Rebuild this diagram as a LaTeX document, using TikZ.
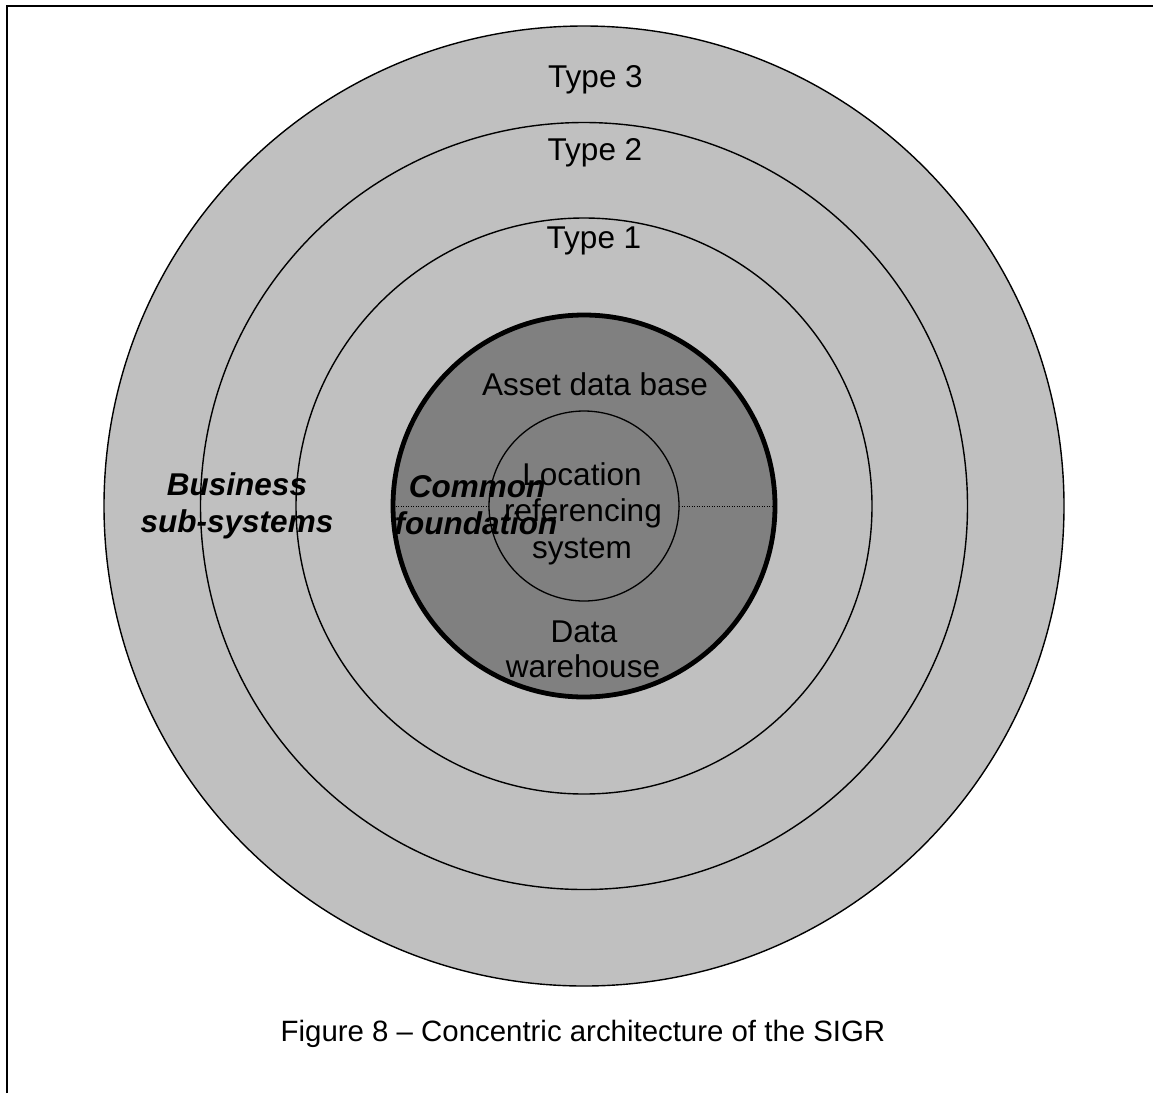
\documentclass[tikz,border=0pt]{standalone}
\usepackage{fontspec}
\setmainfont{Liberation Sans}
\definecolor{lightring}{HTML}{C0C0C0}
\definecolor{darkcore}{HTML}{808080}
\begin{document}
\begin{tikzpicture}[x=1pt,y=-1pt,
  ring/.style={circle,inner sep=0pt,outer sep=0pt,draw=black,line width=1.4pt,fill=lightring},
  core/.style={circle,inner sep=0pt,outer sep=0pt,draw=black,line width=4.8pt,fill=darkcore},
  hub/.style={circle,inner sep=0pt,outer sep=0pt,draw=black,line width=1.3pt},
  lbl/.style={anchor=base,inner sep=0pt,font=\fontsize{31.5}{36}\selectfont},
  blbl/.style={anchor=base,inner sep=0pt,font=\fontsize{31.5}{36}\selectfont\bfseries\itshape},
  caplbl/.style={anchor=base,inner sep=0pt,font=\fontsize{29.4}{34}\selectfont},
  divider/.style={line width=1pt,dash pattern=on 1pt off 1.5pt}
]
\useasboundingbox (0,0) rectangle (1153,1093);
\fill[white] (0,0) rectangle (1153,1093);
% frame (open to right and bottom)
\draw[line width=2.2pt] (7,1093) -- (7,6) -- (1153,6);

\coordinate (c) at (584,506);
\node[ring,minimum size=960pt] (t3) at (c) {};
\node[ring,minimum size=767pt] (t2) at (c) {};
\node[ring,minimum size=576pt] (t1) at (c) {};
\node[core,minimum size=382pt] (cf) at (c) {};
\node[hub,minimum size=190pt] (lrs) at (c) {};

\draw[divider] (cf.west) -- (lrs.west);
\draw[divider] (lrs.east) -- (cf.east);

\node[lbl] (lt3) at (595.5,87) {Type 3};
\node[lbl] (lt2) at (595,160) {Type 2};
\node[lbl] (lt1) at (594,248) {Type 1};
\node[lbl] (lad) at (595,395) {Asset data base};
\node[lbl] (ll1) at (582,485) {Location};
\node[lbl] (ll2) at (583,521) {referencing};
\node[lbl] (ll3) at (582,558) {system};
\node[lbl] (ld1) at (584,642) {Data};
\node[lbl] (ld2) at (583,677) {warehouse};
\node[blbl] (lb1) at (237,495) {Business};
\node[blbl] (lb2) at (237,532) {sub-systems};
\node[blbl] (lc1) at (477,497) {Common};
\node[blbl] (lc2) at (476,534) {foundation};
\node[caplbl] (cap) at (583,1041) {Figure 8 – Concentric architecture of the SIGR};
\end{tikzpicture}
\end{document}
